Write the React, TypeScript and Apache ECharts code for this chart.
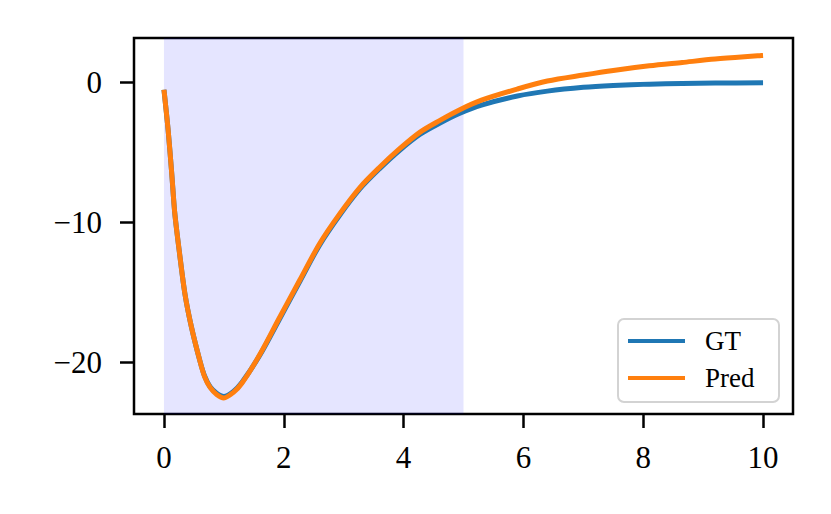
import React, { useEffect, useRef } from "react";
import * as echarts from "echarts";

const xs = [0, 0.07, 0.13, 0.18, 0.26, 0.35, 0.46, 0.6, 0.68, 0.77, 0.88, 1.0, 1.16, 1.3, 1.6, 1.93, 2.27, 2.6, 2.93, 3.27, 3.6, 3.93, 4.27, 4.6, 4.93, 5.3, 5.9, 6.4, 7.0, 7.5, 8.1, 8.65, 9.2, 10];
const gtValues = [-0.5, -3.4, -6.5, -9.3, -12.2, -15.1, -17.5, -19.9, -21.0, -21.75, -22.22, -22.45, -22.08, -21.45, -19.5, -16.9, -14.2, -11.6, -9.5, -7.6, -6.15, -4.85, -3.7, -2.9, -2.2, -1.6, -0.95, -0.6, -0.33, -0.2, -0.1, -0.05, -0.02, -0.01];
const predValues = [-0.5, -3.4, -6.5, -9.3, -12.2, -15.1, -17.5, -19.9, -21.05, -21.8, -22.3, -22.55, -22.15, -21.5, -19.45, -16.8, -14.1, -11.5, -9.4, -7.5, -6.05, -4.74, -3.55, -2.71, -1.95, -1.25, -0.45, 0.12, 0.55, 0.88, 1.21, 1.45, 1.69, 1.95];
const xTicks = [0, 2, 4, 6, 8, 10];
const yTicks = [-20, -10, 0];
const shadeRange = [0, 5];

const FONT = "'Liberation Serif', 'DejaVu Serif', serif";

export default function App() {
  const ref = useRef<HTMLDivElement>(null);
  useEffect(() => {
    if (!ref.current) return;
    const chart = echarts.init(ref.current, null, { renderer: "svg" });
    const fmt = (v: number) => String(v).replace("-", "\u2212");
    chart.setOption({
      animation: false,
      backgroundColor: "#fff",
      grid: {
        left: 134,
        right: 38,
        top: 38,
        bottom: 100,
        show: true,
        borderColor: "#000",
        borderWidth: 2.5,
        backgroundColor: "transparent",
      },
      xAxis: {
        type: "value",
        min: -0.5,
        max: 10.5,
        splitLine: { show: false },
        axisLine: { show: false, onZero: false },
        axisTick: { show: true, length: 14, lineStyle: { color: "#000", width: 2.5 }, customValues: xTicks },
        axisLabel: { customValues: xTicks, formatter: fmt, fontFamily: FONT, fontSize: 31, color: "#000", margin: 28 },
      },
      yAxis: {
        type: "value",
        min: -23.7,
        max: 3.2,
        splitLine: { show: false },
        axisLine: { show: false, onZero: false },
        axisTick: { show: true, length: 14, lineStyle: { color: "#000", width: 2.5 }, customValues: yTicks },
        axisLabel: { customValues: yTicks, formatter: fmt, fontFamily: FONT, fontSize: 31, color: "#000", margin: 32 },
      },
      legend: {
        orient: "vertical",
        left: 618,
        top: 319,
        icon: "rect",
        itemWidth: 57,
        itemHeight: 4,
        itemGap: 9,
        padding: [8, 12, 10, 10],
        backgroundColor: "rgba(255,255,255,0.8)",
        borderColor: "#d3d3d3",
        borderWidth: 2,
        borderRadius: 6,
        textStyle: { fontFamily: FONT, fontSize: 27, lineHeight: 28, color: "#000", padding: [0, 0, 0, 15], width: 62 },
        data: ["GT", "Pred"],
      },
      series: [
        {
          name: "GT",
          type: "line",
          data: xs.map((x, i) => [x, gtValues[i]]),
          showSymbol: false,
          smooth: 0.3,
          lineStyle: { color: "#1f77b4", width: 5 },
          itemStyle: { color: "#1f77b4" },
          z: 2,
          markArea: {
            silent: true,
            itemStyle: { color: "rgba(0,0,255,0.1)" },
            data: [[{ xAxis: shadeRange[0] }, { xAxis: shadeRange[1] }]],
          },
        },
        {
          name: "Pred",
          type: "line",
          data: xs.map((x, i) => [x, predValues[i]]),
          showSymbol: false,
          smooth: 0.3,
          lineStyle: { color: "#ff7f0e", width: 5 },
          itemStyle: { color: "#ff7f0e" },
          z: 3,
        },
      ],
    });
    return () => chart.dispose();
  }, []);
  return <div ref={ref} style={{ position: "fixed", left: 0, top: 0, width: 831, height: 514 }} />;
}
